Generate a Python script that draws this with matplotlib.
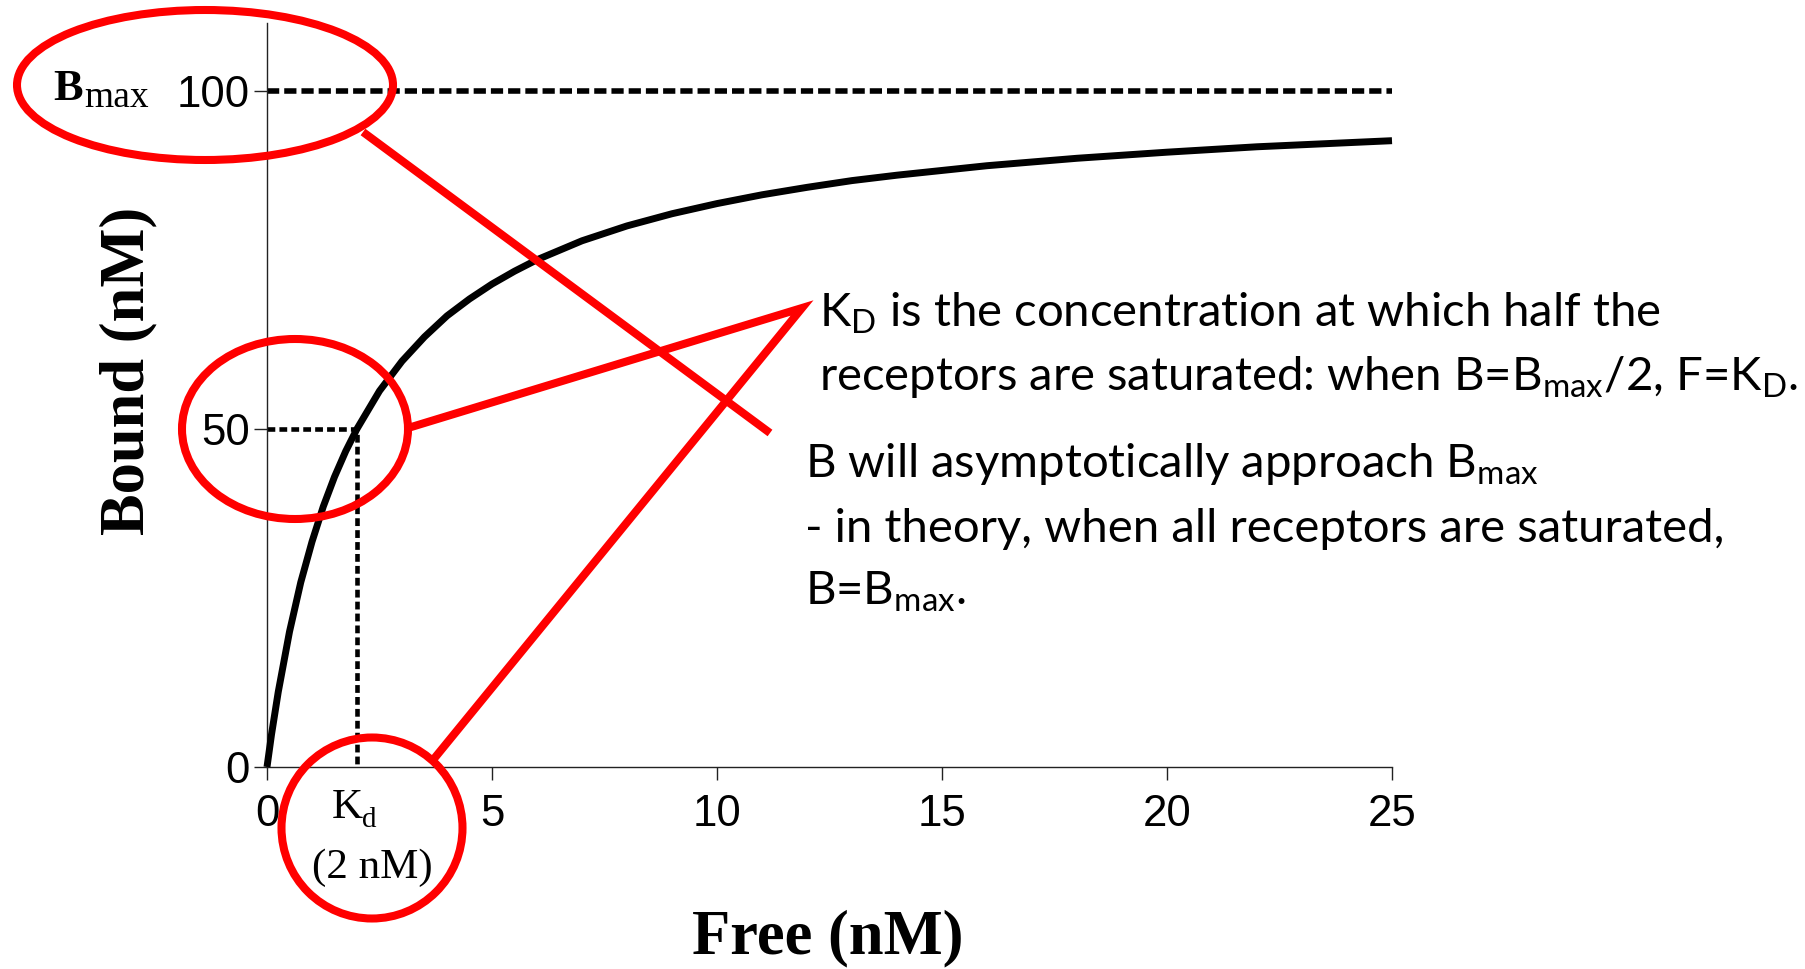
import matplotlib

matplotlib.use("Agg")
import matplotlib.pyplot as plt
from matplotlib.lines import Line2D
from matplotlib.patches import Ellipse

# binding curve (Free vs Bound, nM)
free_nM = [0, 0.1, 0.25, 0.5, 0.75, 1, 1.25, 1.5, 1.75, 2, 2.5, 3, 3.5, 4,
           4.5, 5, 5.5, 6, 7, 8, 9, 10, 11, 12, 13, 14, 16, 18, 20, 22, 25]
bound_nM = [0, 4.8, 11.1, 20.0, 27.3, 33.3, 38.5, 42.9, 46.7, 50.0, 55.6,
            60.0, 63.6, 66.7, 69.2, 71.4, 73.3, 75.0, 77.8, 80.0, 81.8, 83.3,
            84.6, 85.7, 86.7, 87.5, 88.9, 90.0, 90.9, 91.7, 92.6]
bmax = 100
kd = 2
x_ticks = [0, 5, 10, 15, 20, 25]
y_ticks = [0, 50, 100]

note_lines = [
    r"K$_\mathrm{D}$ is the concentration at which half the",
    r"receptors are saturated: when B=B$_\mathrm{max}$/2, F=K$_\mathrm{D}$.",
    r"B will asymptotically approach B$_\mathrm{max}$",
    "- in theory, when all receptors are saturated,",
    r"B=B$_\mathrm{max}$.",
]

W, H = 1805, 969
RED = "#ff0000"
SERIF = "Liberation Serif"
NOTE_FONT = "Lato"

plt.rcParams["mathtext.fontset"] = "custom"
plt.rcParams["mathtext.rm"] = NOTE_FONT

fig = plt.figure(figsize=(W / 100, H / 100), dpi=100)
# axes box in pixels: x 267..1392, y 23..767 (from top)
ax = fig.add_axes([267 / W, 1 - 767 / H, (1392 - 267) / W, (767 - 23) / H])

ax.plot(free_nM, bound_nM, color="black", lw=5, solid_capstyle="butt",
        solid_joinstyle="round", zorder=3, clip_on=False)
ax.plot([0, x_ticks[-1]], [bmax, bmax], color="black", lw=4,
        linestyle=(0, (2.2, 0.9)), clip_on=False)
ax.plot([0, kd, kd], [bmax / 2, bmax / 2, 0], color="black", lw=3.3,
        linestyle=(0, (1.7, 0.9)), clip_on=False)

ax.set_xlim(0, 25)
ax.set_ylim(0, 110)
ax.set_xticks(x_ticks)
ax.set_yticks(y_ticks)
for side in ("top", "right"):
    ax.spines[side].set_visible(False)
for side in ("left", "bottom"):
    ax.spines[side].set_linewidth(1.0)
    ax.spines[side].set_color("#222222")
ax.tick_params(axis="both", direction="out", length=9.5, width=1.0,
               color="#222222", labelsize=31.5)
ax.tick_params(axis="x", pad=10)
ax.tick_params(axis="y", pad=3)
for lab in ax.get_xticklabels() + ax.get_yticklabels():
    lab.set_family("Liberation Sans")

# overlay in pixel coordinates (origin top-left) for labels and callouts
ov = fig.add_axes([0, 0, 1, 1])
ov.set_xlim(0, W)
ov.set_ylim(H, 0)
ov.axis("off")

ov.text(143, 371, "Bound (nM)", rotation=90, rotation_mode="anchor",
        ha="center", va="baseline", family=SERIF, weight="bold", size=45)
ov.text(828, 953, "Free (nM)", ha="center", va="baseline", family=SERIF,
        weight="bold", size=45)

ov.text(53, 100, "B", ha="left", va="baseline", family=SERIF, weight="bold",
        size=32)
ov.text(84, 107, "max", ha="left", va="baseline", family=SERIF, size=27)
ov.text(332, 818, "K", ha="left", va="baseline", family=SERIF, size=31)
ov.text(362, 827, "d", ha="left", va="baseline", family=SERIF, size=21)
ov.text(372, 878, "(2 nM)", ha="center", va="baseline", family=SERIF,
        size=31)

# callout ellipses and connectors
for (cx, cy), ew, eh in [((205, 85), 376, 150), ((295, 429), 226, 180),
                         ((372, 828), 181, 181)]:
    ov.add_patch(Ellipse((cx, cy), ew, eh, fill=False, edgecolor=RED,
                         lw=5.8, clip_on=False))
ov.add_line(Line2D([363, 770], [132, 433], color=RED, lw=5.8,
                   solid_capstyle="butt"))
ov.add_line(Line2D([408, 802, 433], [428, 308, 760], color=RED, lw=5.8,
                   solid_capstyle="butt", solid_joinstyle="miter"))

note_pos = [(819, 327), (819, 390), (805, 477), (805, 542), (805, 605)]
for (tx, ty), line in zip(note_pos, note_lines):
    ov.text(tx, ty, line, ha="left", va="baseline", family=NOTE_FONT,
            size=34)

fig.savefig("out.png", dpi=100)
